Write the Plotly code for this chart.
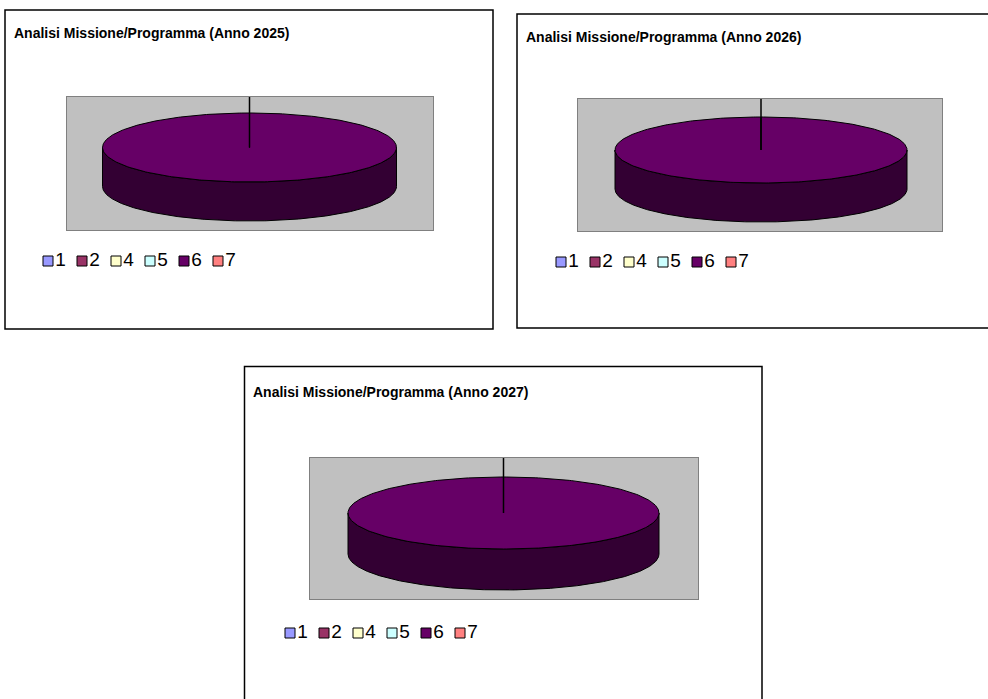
import numpy as np
import plotly.graph_objects as go

# Categories (Missione/Programma codes) and their legend colours
categories = ["1", "2", "4", "5", "6", "7"]
colors = ["#9999FF", "#993366", "#FFFFCC", "#CCFFFF", "#660066", "#FF8080"]

# Share of each category per year (percent)
years = ["2025", "2026", "2027"]
values_2025 = [0, 0, 0, 0, 100, 0]
values_2026 = [0, 0, 0, 0, 100, 0]
values_2027 = [0, 0, 0, 0, 100, 0]
values_by_year = [values_2025, values_2026, values_2027]

W, H = 988, 699
FONT = "Liberation Sans, Arial, sans-serif"

# Page layout of each chart box (pixels): frame, plot area, pie centre/radii, title and legend anchors
panels = [
    dict(frame=(5, 10, 493, 329), plot=(67, 97, 433, 230), center=(249.5, 147.5),
         rx=147, ry=34.5, depth=39, title=(12, 33), legend=(48, 261)),
    dict(frame=(517, 14, 1000, 328), plot=(578, 99, 942, 231), center=(761, 150),
         rx=146, ry=33, depth=39, title=(524, 37), legend=(561, 262)),
    dict(frame=(244.5, 366.5, 762, 710), plot=(310, 458, 698, 599), center=(503.5, 513),
         rx=155.5, ry=36, depth=41, title=(251, 392), legend=(290, 633)),
]
LEGEND_STEP = 34
LEGEND_BOX = (260, 30)  # width, height of the legend strip in px


def darker(hex_color, f=0.5):
    h = hex_color.lstrip("#")
    r, g, b = (int(h[i:i + 2], 16) for i in (0, 2, 4))
    return "#%02X%02X%02X" % (int(r * f), int(g * f), int(b * f))


def pie3d(vals, rx, ry, depth, n=361):
    """Top faces and front walls of a tilted 3D pie, clockwise from 12 o'clock."""
    total = float(sum(vals))
    start = 90.0
    tops, walls = [], []
    for v, c in zip(vals, colors):
        if v <= 0:
            continue
        sweep = 360.0 * v / total
        a0, a1 = start, start - sweep
        t = np.radians(np.linspace(a0, a1, n))
        tops.append((np.concatenate([[0], rx * np.cos(t), [0]]),
                     np.concatenate([[0], ry * np.sin(t), [0]]), c))
        # visible wall = part of the rim lying on the front half of the ellipse
        for k in range(-2, 3):
            lo, hi = max(a1, -180 + 360 * k), min(a0, 360 * k)
            if hi > lo:
                tt = np.radians(np.linspace(hi, lo, n))
                ux, uy = rx * np.cos(tt), ry * np.sin(tt)
                wx = np.concatenate([ux, ux[::-1], ux[:1]])
                wy = np.concatenate([uy, uy[::-1] - depth, uy[:1]])
                walls.append((wx, wy, darker(c)))
        start = a1
    return tops, walls


def hidden_axis(domain, rng, anchor):
    return dict(domain=domain, range=rng, anchor=anchor, visible=False, fixedrange=True)


fig = go.Figure()
layout = dict(width=W, height=H, margin=dict(l=0, r=0, t=0, b=0),
              paper_bgcolor="white", plot_bgcolor="rgba(0,0,0,0)",
              showlegend=False, shapes=[], annotations=[])

n = len(panels)
for i, (p, year, vals) in enumerate(zip(panels, years, values_by_year)):
    sfx = "" if i == 0 else str(i + 1)
    xa, ya = "x" + sfx, "y" + sfx
    gx0, gy0, gx1, gy1 = p["plot"]
    cx, cy = p["center"]

    layout["xaxis" + sfx] = dict(domain=[gx0 / W, gx1 / W], range=[gx0 - cx, gx1 - cx],
                                 anchor=ya, showgrid=False, zeroline=False, showticklabels=False,
                                 ticks="", showline=True, mirror=True, linecolor="#808080",
                                 linewidth=1, fixedrange=True)
    layout["yaxis" + sfx] = dict(domain=[1 - gy1 / H, 1 - gy0 / H], range=[-(gy1 - cy), cy - gy0],
                                 anchor=xa, showgrid=False, zeroline=False, showticklabels=False,
                                 ticks="", showline=True, mirror=True, linecolor="#808080",
                                 linewidth=1, fixedrange=True)
    # grey plot-area fill
    layout["shapes"].append(dict(type="rect", xref=xa + " domain", yref=ya + " domain",
                                 x0=0, x1=1, y0=0, y1=1, fillcolor="#C0C0C0",
                                 line=dict(width=0), layer="below"))

    tops, walls = pie3d(vals, p["rx"], p["ry"], p["depth"])
    for wx, wy, c in walls:
        fig.add_trace(go.Scatter(x=wx, y=wy, xaxis=xa, yaxis=ya, mode="lines", fill="toself",
                                 fillcolor=c, line=dict(color="#000000", width=1),
                                 hoverinfo="skip"))
    for tx, ty, c in tops:
        fig.add_trace(go.Scatter(x=tx, y=ty, xaxis=xa, yaxis=ya, mode="lines", fill="toself",
                                 fillcolor=c, line=dict(color="#000000", width=1),
                                 hoverinfo="skip"))

    # slice boundary line at the starting angle, running up to the plot-area edge
    reach = cy - gy0
    ang = np.radians(90.0)
    fig.add_trace(go.Scatter(x=[0, reach * np.cos(ang)], y=[0, reach * np.sin(ang)],
                             xaxis=xa, yaxis=ya, mode="lines",
                             line=dict(color="#000000", width=1.5), hoverinfo="skip"))

    # legend row on its own hidden axes (1 unit = 1 px)
    lsfx = str(n + i + 1)
    lx, ly = p["legend"]
    bw, bh = LEGEND_BOX
    lx0 = lx - 10
    layout["xaxis" + lsfx] = hidden_axis([lx0 / W, (lx0 + bw) / W], [0, bw], "y" + lsfx)
    layout["yaxis" + lsfx] = hidden_axis([1 - (ly + bh / 2) / H, 1 - (ly - bh / 2) / H],
                                         [-bh / 2, bh / 2], "x" + lsfx)
    fig.add_trace(go.Scatter(
        x=[10 + k * LEGEND_STEP for k in range(len(categories))],
        y=[0] * len(categories), xaxis="x" + lsfx, yaxis="y" + lsfx,
        mode="markers+text", text=categories, textposition="middle right",
        textfont=dict(family=FONT, size=19, color="#000000"),
        marker=dict(symbol="square", size=10, color=colors, line=dict(color="#000000", width=1)),
        cliponaxis=False, hoverinfo="skip"))

    # chart box frame and title
    fx0, fy0, fx1, fy1 = p["frame"]
    layout["shapes"].append(dict(type="rect", xref="paper", yref="paper",
                                 x0=fx0 / W, x1=fx1 / W, y0=1 - fy1 / H, y1=1 - fy0 / H,
                                 line=dict(color="#000000", width=1.5), layer="below"))
    tx, ty = p["title"]
    layout["annotations"].append(dict(xref="paper", yref="paper", x=tx / W, y=1 - ty / H,
                                      xanchor="left", yanchor="middle", showarrow=False,
                                      text="<b>Analisi Missione/Programma (Anno %s)</b>" % year,
                                      font=dict(family=FONT, size=14, color="#000000")))

fig.update_layout(**layout)
fig.write_html("out.html")
